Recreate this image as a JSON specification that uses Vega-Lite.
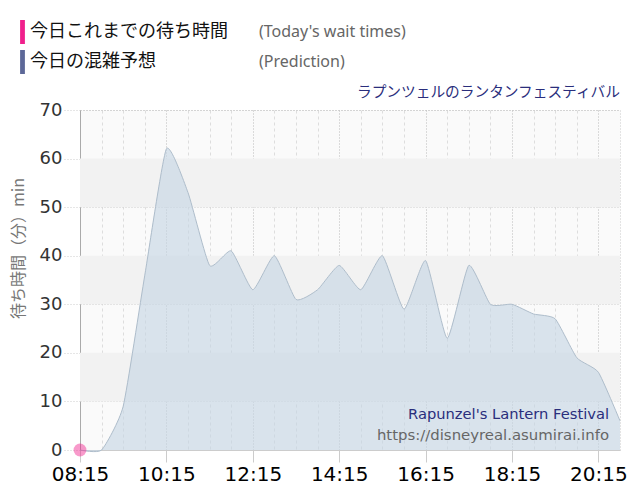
{
  "$schema": "https://vega.github.io/schema/vega-lite/v6.json",
  "width": 540,
  "height": 340,
  "autosize": {"type": "none"},
  "padding": {"left": 80, "top": 110, "right": 20, "bottom": 50},
  "background": "#ffffff",
  "title": {
    "text": "ラプンツェルのランタンフェスティバル",
    "anchor": "end",
    "frame": "group",
    "font": "Noto Sans CJK JP",
    "fontSize": 14.7,
    "fontWeight": "normal",
    "color": "#2a2e7c",
    "offset": 10,
    "dy": 90
  },
  "datasets": {
    "prediction": [
      {"t": "2024-01-01 08:15", "wait": 0},
      {"t": "2024-01-01 08:45", "wait": 0},
      {"t": "2024-01-01 09:15", "wait": 9},
      {"t": "2024-01-01 09:45", "wait": 36},
      {"t": "2024-01-01 10:15", "wait": 62},
      {"t": "2024-01-01 10:45", "wait": 53},
      {"t": "2024-01-01 11:15", "wait": 38},
      {"t": "2024-01-01 11:45", "wait": 41},
      {"t": "2024-01-01 12:15", "wait": 33},
      {"t": "2024-01-01 12:45", "wait": 40},
      {"t": "2024-01-01 13:15", "wait": 31},
      {"t": "2024-01-01 13:45", "wait": 33},
      {"t": "2024-01-01 14:15", "wait": 38},
      {"t": "2024-01-01 14:45", "wait": 33},
      {"t": "2024-01-01 15:15", "wait": 40},
      {"t": "2024-01-01 15:45", "wait": 29},
      {"t": "2024-01-01 16:15", "wait": 39},
      {"t": "2024-01-01 16:45", "wait": 23},
      {"t": "2024-01-01 17:15", "wait": 38},
      {"t": "2024-01-01 17:45", "wait": 30},
      {"t": "2024-01-01 18:15", "wait": 30},
      {"t": "2024-01-01 18:45", "wait": 28},
      {"t": "2024-01-01 19:15", "wait": 27},
      {"t": "2024-01-01 19:45", "wait": 19},
      {"t": "2024-01-01 20:15", "wait": 16},
      {"t": "2024-01-01 20:45", "wait": 6}
    ],
    "today": [
      {"t": "2024-01-01 08:15", "wait": 0, "series": "今日これまでの待ち時間", "en": "(Today's wait times)"}
    ],
    "bands": [
      {"lo": 10, "hi": 20},
      {"lo": 30, "hi": 40},
      {"lo": 50, "hi": 60}
    ],
    "notes": [
      {"note": "Rapunzel's Lantern Festival", "kind": "name"},
      {"note": "https://disneyreal.asumirai.info", "kind": "url"}
    ]
  },
  "resolve": {"axis": {"x": "independent"}},
  "layer": [
    {
      "data": {"name": "bands"},
      "mark": {"type": "rect", "color": "#f2f2f2"},
      "encoding": {
        "y": {"field": "lo", "type": "quantitative", "scale": {"domain": [0, 70]}, "title": "待ち時間（分）min"},
        "y2": {"field": "hi"}
      }
    },
    {
      "data": {"name": "prediction"},
      "mark": {
        "type": "area",
        "interpolate": "cardinal",
        "tension": 0.5,
        "color": "#c5d5e3",
        "opacity": 0.62,
        "line": {"color": "#aebdcb", "strokeWidth": 1}
      },
      "encoding": {
        "x": {
          "field": "t",
          "type": "temporal",
          "scale": {"domain": [
            {"year": 2024, "month": 1, "date": 1, "hours": 8, "minutes": 15},
            {"year": 2024, "month": 1, "date": 1, "hours": 20, "minutes": 45}
          ]},
          "axis": {
            "title": null,
            "format": "%H:%M",
            "values": [
              {"year": 2024, "month": 1, "date": 1, "hours": 8, "minutes": 15},
              {"year": 2024, "month": 1, "date": 1, "hours": 10, "minutes": 15},
              {"year": 2024, "month": 1, "date": 1, "hours": 12, "minutes": 15},
              {"year": 2024, "month": 1, "date": 1, "hours": 14, "minutes": 15},
              {"year": 2024, "month": 1, "date": 1, "hours": 16, "minutes": 15},
              {"year": 2024, "month": 1, "date": 1, "hours": 18, "minutes": 15},
              {"year": 2024, "month": 1, "date": 1, "hours": 20, "minutes": 15}
            ],
            "labelFont": "DejaVu Sans",
            "labelFontSize": 20,
            "labelColor": "#000000",
            "labelFlush": false,
            "labelOverlap": false,
            "labelPadding": 2,
            "tickColor": "#cccccc",
            "tickSize": 12,
            "domainColor": "#cccccc",
            "grid": true,
            "gridColor": "#bbbbbb",
            "gridDash": [1, 2]
          }
        },
        "y": {"field": "wait", "type": "quantitative", "title": "待ち時間（分）min"}
      }
    },
    {
      "data": {"name": "today"},
      "mark": {"type": "point", "filled": true, "size": 165, "opacity": 0.45},
      "encoding": {
        "x": {
          "field": "t",
          "type": "temporal",
          "axis": {
            "orient": "bottom",
            "title": null,
            "labels": false,
            "ticks": false,
            "domain": false,
            "grid": true,
            "gridColor": "#dddddd",
            "gridDash": [3, 3],
            "values": [
              {"year": 2024, "month": 1, "date": 1, "hours": 8, "minutes": 45},
              {"year": 2024, "month": 1, "date": 1, "hours": 9, "minutes": 15},
              {"year": 2024, "month": 1, "date": 1, "hours": 9, "minutes": 45},
              {"year": 2024, "month": 1, "date": 1, "hours": 10, "minutes": 45},
              {"year": 2024, "month": 1, "date": 1, "hours": 11, "minutes": 15},
              {"year": 2024, "month": 1, "date": 1, "hours": 11, "minutes": 45},
              {"year": 2024, "month": 1, "date": 1, "hours": 12, "minutes": 45},
              {"year": 2024, "month": 1, "date": 1, "hours": 13, "minutes": 15},
              {"year": 2024, "month": 1, "date": 1, "hours": 13, "minutes": 45},
              {"year": 2024, "month": 1, "date": 1, "hours": 14, "minutes": 45},
              {"year": 2024, "month": 1, "date": 1, "hours": 15, "minutes": 15},
              {"year": 2024, "month": 1, "date": 1, "hours": 15, "minutes": 45},
              {"year": 2024, "month": 1, "date": 1, "hours": 16, "minutes": 45},
              {"year": 2024, "month": 1, "date": 1, "hours": 17, "minutes": 15},
              {"year": 2024, "month": 1, "date": 1, "hours": 17, "minutes": 45},
              {"year": 2024, "month": 1, "date": 1, "hours": 18, "minutes": 45},
              {"year": 2024, "month": 1, "date": 1, "hours": 19, "minutes": 15},
              {"year": 2024, "month": 1, "date": 1, "hours": 19, "minutes": 45}
            ]
          }
        },
        "y": {"field": "wait", "type": "quantitative", "title": "待ち時間（分）min"},
        "color": {
          "field": "series",
          "type": "nominal",
          "scale": {"domain": ["今日これまでの待ち時間", "今日の混雑予想"], "range": ["#f0208c", "#5d6898"]},
          "legend": {
            "orient": "none",
            "legendX": -69.5,
            "legendY": -90,
            "title": null,
            "padding": 0,
            "symbolType": "M-0.2,-1H0.2V1H-0.2Z",
            "symbolSize": 576,
            "symbolOpacity": 1,
            "symbolStrokeWidth": 0,
            "labelFont": "Noto Sans CJK JP",
            "labelFontSize": 18,
            "labelColor": "#111111",
            "labelOffset": -4.5,
            "labelLimit": 300,
            "rowPadding": 6
          }
        },
        "shape": {
          "field": "en",
          "type": "nominal",
          "scale": {"domain": ["(Today's wait times)", "(Prediction)"], "range": ["circle", "circle"]},
          "legend": {
            "orient": "none",
            "legendX": 151,
            "legendY": -90,
            "title": null,
            "padding": 0,
            "symbolSize": 576,
            "symbolOpacity": 0,
            "symbolStrokeWidth": 0,
            "labelFont": "Noto Sans",
            "labelFontSize": 16,
            "labelColor": "#666666",
            "labelLimit": 300,
            "rowPadding": 6
          }
        }
      }
    },
    {
      "data": {"name": "notes"},
      "transform": [{"filter": "datum.kind === 'name'"}],
      "mark": {"type": "text", "align": "right", "baseline": "middle", "dx": -11, "font": "DejaVu Sans", "fontSize": 14.7, "color": "#2a2e7c"},
      "encoding": {
        "x": {"datum": {"year": 2024, "month": 1, "date": 1, "hours": 20, "minutes": 45}, "type": "temporal", "axis": null},
        "y": {"datum": 7.2, "type": "quantitative"},
        "text": {"field": "note"}
      }
    },
    {
      "data": {"name": "notes"},
      "transform": [{"filter": "datum.kind === 'url'"}],
      "mark": {"type": "text", "align": "right", "baseline": "middle", "dx": -11, "font": "DejaVu Sans", "fontSize": 14.9, "color": "#666666"},
      "encoding": {
        "x": {"datum": {"year": 2024, "month": 1, "date": 1, "hours": 20, "minutes": 45}, "type": "temporal", "axis": null},
        "y": {"datum": 2.9, "type": "quantitative"},
        "text": {"field": "note"}
      }
    }
  ],
  "config": {
    "view": {"fill": "#fafafa", "stroke": "#cccccc", "strokeDash": [1, 2]},
    "axisY": {
      "values": [0, 10, 20, 30, 40, 50, 60, 70],
      "labelFont": "DejaVu Sans",
      "labelFontSize": 18,
      "labelColor": "#333333",
      "labelPadding": 2,
      "tickColor": "#cccccc",
      "tickDash": [1, 2],
      "tickSize": 16,
      "domainColor": "#aaaaaa",
      "grid": true,
      "gridColor": "#c4c4c4",
      "gridDash": [1, 2],
      "titleFont": "Noto Sans CJK JP",
      "titleFontSize": 16,
      "titleFontWeight": "normal",
      "titleColor": "#777777",
      "titleX": -54,
      "titleY": 138
    }
  }
}
